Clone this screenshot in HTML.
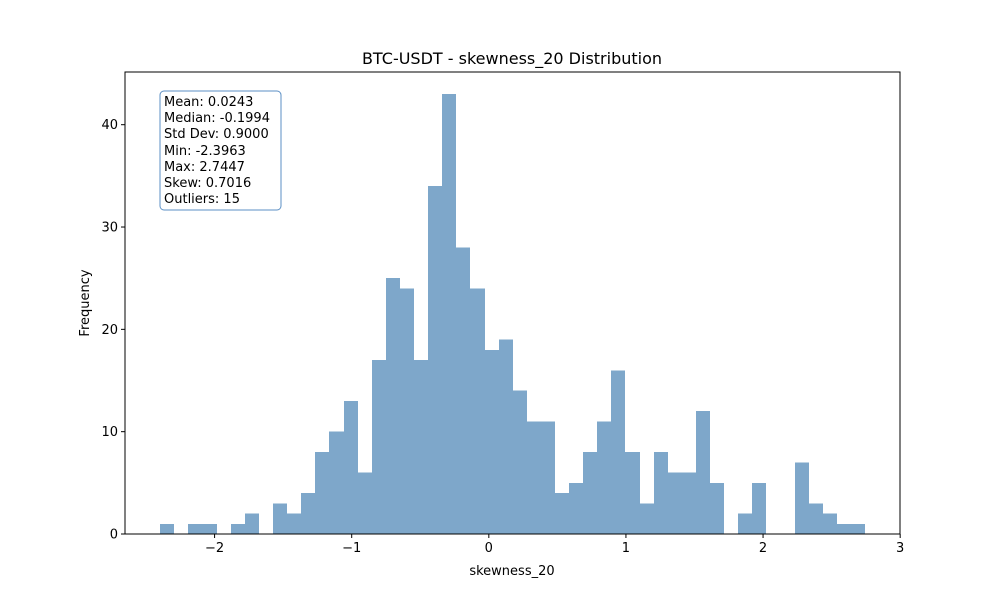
<!DOCTYPE html>
<html><head><meta charset="utf-8"><style>
body{margin:0;background:#fff;font-family:"Liberation Sans","DejaVu Sans",sans-serif}
svg text{font-family:"DejaVu Sans","Liberation Sans",sans-serif;fill:#000}
</style></head><body>
<svg id="chart" width="1000" height="600" xmlns="http://www.w3.org/2000/svg">
<rect width="1000" height="600" fill="#fff"/>
<g id="bars" shape-rendering="crispEdges"></g>
<g id="axes"></g>
<text x="512" y="64" font-size="16" text-anchor="middle">BTC-USDT - skewness_20 Distribution</text>
<text x="512" y="575" font-size="13" text-anchor="middle">skewness_20</text>
<text x="0" y="0" font-size="13" text-anchor="middle" transform="translate(89,303) rotate(-90)">Frequency</text>
<g>
<rect x="160" y="91" width="121" height="119" rx="4" fill="#fff" stroke="#5b8fc4" stroke-width="1"/>
<text font-size="13" x="164">
<tspan x="164" y="106">Mean: 0.0243</tspan>
<tspan x="164" y="122">Median: -0.1994</tspan>
<tspan x="164" y="138">Std Dev: 0.9000</tspan>
<tspan x="164" y="155">Min: -2.3963</tspan>
<tspan x="164" y="171">Max: 2.7447</tspan>
<tspan x="164" y="187">Skew: 0.7016</tspan>
<tspan x="164" y="203">Outliers: 15</tspan>
</text>
</g>
</svg>
<script>
const binMin = -2.3963;
const binMax = 2.7447;
const counts = [1,0,1,1,0,1,2,0,3,2,4,8,10,13,6,17,25,24,17,34,43,28,24,18,19,14,11,11,4,5,8,11,16,8,3,8,6,6,12,5,0,2,5,0,0,7,3,2,1,1];
const xTicks = [-2,-1,0,1,2,3];
const yTicks = [0,10,20,30,40];
const xTickLabels = ["\u22122","\u22121","0","1","2","3"];

const L=125,R=900,T=72,B=534;
const xDomain=[-2.6533,2.9987];
const yMax=45.15;
const xs=v=>L+(v-xDomain[0])/(xDomain[1]-xDomain[0])*(R-L);
const ys=v=>B-v/yMax*(B-T);
const NS="http://www.w3.org/2000/svg";
const bars=document.getElementById('bars');
const w=(binMax-binMin)/counts.length;
counts.forEach((c,i)=>{
  if(c<=0) return;
  const r=document.createElementNS(NS,'rect');
  const x0=Math.round(xs(binMin+i*w)), x1=Math.round(xs(binMin+(i+1)*w));
  r.setAttribute('x',x0);r.setAttribute('width',x1-x0);
  r.setAttribute('y',ys(c));r.setAttribute('height',B-ys(c));
  r.setAttribute('fill','#7ea7ca');
  
  
  bars.appendChild(r);
});
const ax=document.getElementById('axes');
const frame=document.createElementNS(NS,'rect');
frame.setAttribute('x',L);frame.setAttribute('y',T);frame.setAttribute('width',R-L);frame.setAttribute('height',B-T);
frame.setAttribute('fill','none');frame.setAttribute('stroke','#000');frame.setAttribute('stroke-width','1');


ax.appendChild(frame);
xTicks.forEach((t,i)=>{
  const x=xs(t);
  const l=document.createElementNS(NS,'line');
  l.setAttribute('x1',x);l.setAttribute('x2',x);l.setAttribute('y1',B);l.setAttribute('y2',B+4);l.setAttribute('stroke','#000');
  
  
  ax.appendChild(l);
  const tx=document.createElementNS(NS,'text');
  tx.setAttribute('x',x);tx.setAttribute('y',B+18);tx.setAttribute('font-size','13');tx.setAttribute('text-anchor','middle');
  tx.textContent=xTickLabels[i];
  
  
  ax.appendChild(tx);
});
yTicks.forEach(t=>{
  const y=ys(t);
  const l=document.createElementNS(NS,'line');
  l.setAttribute('x1',L-4);l.setAttribute('x2',L);l.setAttribute('y1',y);l.setAttribute('y2',y);l.setAttribute('stroke','#000');
  
  
  ax.appendChild(l);
  const tx=document.createElementNS(NS,'text');
  tx.setAttribute('x',L-7);tx.setAttribute('y',y+4.5);tx.setAttribute('font-size','13');tx.setAttribute('text-anchor','end');
  tx.textContent=t;
  
  
  ax.appendChild(tx);
});
</script>
</body></html>
